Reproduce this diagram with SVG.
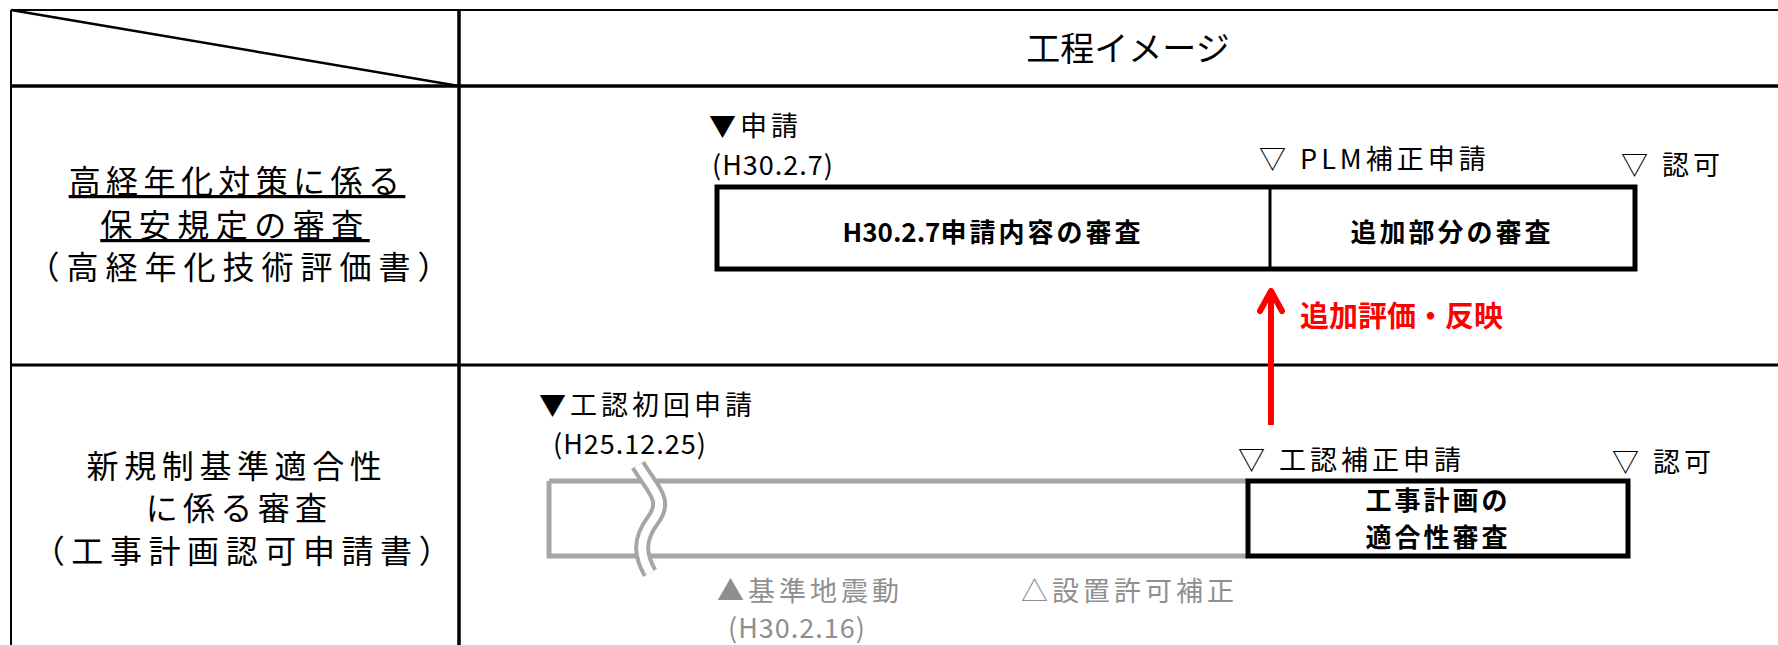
<svg xmlns="http://www.w3.org/2000/svg" width="1778" height="645" viewBox="0 0 1778 645">
<style>
text{font-family:"Noto Sans CJK JP","Noto Sans",sans-serif;fill:#000}
.grid{stroke:#000;fill:none}
.lbl{font-size:32px;text-anchor:middle}
.m{font-size:27px;letter-spacing:4px}
.n{font-size:27px;letter-spacing:1px}
.b{font-size:26px;font-weight:bold;letter-spacing:3px;text-anchor:middle}
.g{fill:#8f8f8f}
.box{fill:#fff;stroke:#000;stroke-width:5}
</style>
<g id="table">
<line class="grid" x1="11" y1="10" x2="1778" y2="10" stroke-width="2"/>
<line class="grid" x1="11" y1="86" x2="1778" y2="86" stroke-width="3.5"/>
<line class="grid" x1="11" y1="365" x2="1778" y2="365" stroke-width="3"/>
<line class="grid" x1="11" y1="10" x2="11" y2="645" stroke-width="2"/>
<line class="grid" x1="459" y1="10" x2="459" y2="645" stroke-width="3.5"/>
<line class="grid" x1="11" y1="10" x2="459" y2="86" stroke-width="2.5"/>
<text x="1128" y="61" font-size="34" text-anchor="middle">工程イメージ</text>
</g>
<g id="row1-label">
<text class="lbl" x="237" y="193" letter-spacing="5.4" text-decoration="underline">高経年化対策に係る</text>
<text class="lbl" x="235" y="237" letter-spacing="6.5" text-decoration="underline">保安規定の審査</text>
<text class="lbl" x="242" y="279" letter-spacing="7">（高経年化技術評価書）</text>
</g>
<g id="row2-label">
<text class="lbl" x="237" y="478" letter-spacing="5.6">新規制基準適合性</text>
<text class="lbl" x="239" y="520" letter-spacing="5.3">に係る審査</text>
<text class="lbl" x="245" y="563" letter-spacing="6.6">（工事計画認可申請書）</text>
</g>
<g id="plm-review">
<rect class="box" x="717" y="187" width="918" height="82"/>
<line x1="1270" y1="187" x2="1270" y2="269" stroke="#000" stroke-width="3"/>
<text class="b" x="993" y="242"><tspan letter-spacing="0">H30.2.7</tspan>申請内容の審査</text>
<text class="b" x="1452" y="242">追加部分の審査</text>
<text class="m" x="709" y="136">▼申請</text>
<text class="n" x="712" y="175">(H30.2.7)</text>
<text class="m" x="1259" y="169">▽ PLM補正申請</text>
<text class="m" x="1621" y="175">▽ 認可</text>
</g>
<g id="kouji-review">
<path d="M549,481 H1247 M549,481 V556 H1247" fill="none" stroke="#a6a6a6" stroke-width="5"/>
<path d="M638,465 C653,490 668,500 653,520 C638,540 640,555 650,573" fill="none" stroke="#a6a6a6" stroke-width="16"/>
<path d="M638,465 C653,490 668,500 653,520 C638,540 640,555 650,573" fill="none" stroke="#fff" stroke-width="8"/>
<rect class="box" x="1248" y="481" width="380" height="75"/>
<text class="b" x="1438" y="510">工事計画の</text>
<text class="b" x="1438" y="547">適合性審査</text>
<text class="m" x="539" y="415">▼工認初回申請</text>
<text class="n" x="553" y="454">(H25.12.25)</text>
<text class="m" x="1238" y="470">▽ 工認補正申請</text>
<text class="m" x="1612" y="472">▽ 認可</text>
<text class="m g" x="717" y="601">▲基準地震動</text>
<text class="n g" x="728" y="638">(H30.2.16)</text>
<text class="m g" x="1021" y="601">△設置許可補正</text>
</g>
<g id="connectors">
<line x1="1271" y1="425" x2="1271" y2="292" stroke="#ff0000" stroke-width="6"/>
<polyline points="1260,311 1271,291 1282,311" fill="none" stroke="#ff0000" stroke-width="6" stroke-linecap="round" stroke-linejoin="round"/>
<text x="1300" y="327" font-size="29" font-weight="bold" style="fill:#ff0000">追加評価・反映</text>
</g>
</svg>
